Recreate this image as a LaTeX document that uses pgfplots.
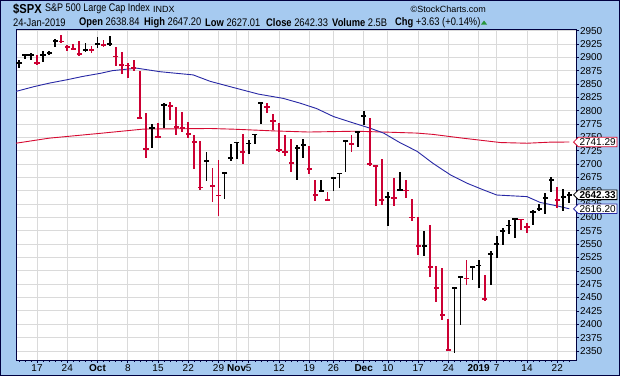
\documentclass[border=0pt]{standalone}
\usepackage{pgfplots}
\pgfplotsset{compat=1.18}
\usepackage{pgfplotstable}
\usepackage{graphicx}
\usepackage{fontspec}
\setmainfont{Liberation Sans}
\usetikzlibrary{shapes.symbols}

\definecolor{scblue}{RGB}{166,202,240}
\definecolor{navy}{RGB}{0,0,64}
\definecolor{barred}{RGB}{204,0,51}
\definecolor{mablue}{RGB}{40,40,165}
\definecolor{mared}{RGB}{215,10,50}
\definecolor{gridgray}{RGB}{218,218,218}
\definecolor{monthgray}{RGB}{185,185,185}
\definecolor{upgreen}{RGB}{40,150,60}

% x = trading-day index (0 = 12-Sep-2018), h = high, l = low, c = close
\pgfplotstableread{
x h l c
0 2894.65 2879.20 2888.92
1 2906.76 2896.39 2904.18
2 2908.30 2895.77 2904.98
4 2911.17 2890.43 2904.31
5 2912.36 2903.82 2907.95
6 2934.80 2919.73 2930.75
11 2927.22 2909.27 2914.00
13 2937.06 2917.91 2924.59
15 2939.86 2921.36 2925.51
22 2775.77 2729.44 2767.13
24 2813.46 2766.91 2809.92
31 2722.70 2667.84 2705.57
34 2685.43 2635.34 2682.63
35 2736.69 2705.60 2711.74
36 2741.67 2708.85 2740.37
38 2744.27 2717.94 2738.31
39 2756.82 2737.08 2755.45
40 2815.15 2774.13 2813.89
46 2735.38 2670.75 2730.20
47 2746.75 2712.16 2736.27
50 2670.73 2649.82 2649.93
52 2674.35 2649.97 2673.45
53 2682.53 2655.89 2682.17
54 2744.00 2684.38 2743.79
56 2760.88 2732.76 2760.17
57 2800.18 2773.38 2790.37
61 2647.51 2583.23 2637.72
63 2685.44 2650.26 2651.07
67 2573.99 2528.71 2546.16
72 2467.76 2346.58 2467.70
73 2489.10 2397.94 2488.83
75 2509.24 2482.82 2506.85
76 2519.49 2467.47 2510.03
78 2538.07 2474.33 2531.94
79 2566.16 2524.56 2549.69
80 2579.82 2547.56 2574.41
81 2595.32 2568.89 2584.96
82 2597.82 2562.02 2596.64
85 2613.08 2585.10 2610.30
86 2625.76 2612.68 2616.10
87 2645.06 2606.36 2635.96
88 2675.47 2647.58 2670.71
90 2653.19 2612.86 2638.70
91 2647.20 2627.01 2642.33
}\updays

\pgfplotstableread{
x h l c
3 2904.65 2886.16 2888.80
7 2940.91 2927.11 2929.67
8 2923.79 2912.63 2919.37
9 2923.95 2913.70 2915.56
10 2931.15 2903.28 2905.97
12 2920.53 2907.50 2913.98
14 2931.42 2919.37 2923.43
16 2919.78 2883.92 2901.61
17 2909.64 2869.29 2885.57
18 2889.45 2862.08 2884.43
19 2894.83 2874.27 2880.34
20 2874.02 2784.86 2785.68
21 2795.14 2710.51 2728.37
23 2775.99 2749.03 2750.79
25 2816.94 2781.81 2809.21
26 2806.04 2755.18 2768.78
27 2797.77 2760.27 2767.78
28 2778.94 2749.22 2755.88
29 2753.59 2691.43 2740.69
30 2742.59 2651.89 2656.10
32 2692.38 2628.16 2658.69
33 2706.85 2603.54 2641.25
37 2756.55 2700.44 2723.06
41 2814.75 2794.99 2806.83
42 2794.10 2764.24 2781.01
43 2775.99 2722.00 2726.22
44 2754.60 2714.98 2722.18
45 2746.80 2685.75 2701.58
48 2733.16 2681.09 2690.73
49 2669.44 2631.52 2641.89
51 2647.55 2631.09 2632.56
55 2753.75 2722.94 2737.80
58 2785.93 2697.18 2700.06
59 2696.15 2621.53 2695.95
60 2708.54 2623.14 2633.08
62 2674.35 2621.30 2636.78
64 2670.19 2637.27 2650.54
65 2635.07 2593.84 2599.95
66 2601.13 2530.54 2545.94
68 2585.29 2488.96 2506.96
69 2509.63 2441.18 2467.42
70 2504.41 2408.55 2416.62
71 2410.34 2351.10 2351.10
74 2520.27 2472.89 2485.74
77 2493.14 2443.96 2447.89
83 2596.27 2577.40 2596.26
84 2589.32 2570.41 2582.61
89 2657.88 2617.27 2632.90
}\downdays

% 50-day moving average
\pgfplotstableread{
x v
-0.5 2836
2.5 2845
5 2851.5
8 2858
10.5 2864
13.5 2870
15.5 2875
19.5 2879.6
23.3 2873
26 2870
28.8 2867
31.6 2855
34.9 2845
39.6 2831
43.7 2823
46.5 2814
49.2 2804
52 2789
55 2778
58.1 2767
60.3 2758
63 2740
65.8 2724
68.5 2701
71.3 2680
74.1 2664
76.8 2651.6
79 2642
84 2639
86.2 2628
89 2621.6
91 2616.2
}\maf

% 200-day moving average
\pgfplotstableread{
x v
-0.5 2739
5 2748.5
13.4 2757.5
20.6 2765.5
31.6 2766.6
35.5 2765.3
42.3 2762
47.9 2760
55.6 2761.5
60.2 2760
65.8 2758
68.5 2755.5
73 2749
79.6 2740.3
84 2739
87.8 2741
91 2741.29
}\mas

\newcommand{\hdr}[1]{\scalebox{0.85}[1]{\fontsize{11}{12}\selectfont #1}}

\begin{document}
\begin{tikzpicture}
\useasboundingbox (0pt,0pt) rectangle (620pt,376pt);
\fill[scblue] (0pt,0pt) rectangle (620pt,376pt);
\draw[navy, line width=1pt] (0.5pt,0.5pt) rectangle (619.5pt,375.5pt);

% header
\node[anchor=west, inner sep=0pt] at (13pt,367pt) {\scalebox{0.86}[1]{\fontsize{13}{13}\selectfont\bfseries \$SPX}};
\node[anchor=west, inner sep=0pt] at (45pt,367pt) {\scalebox{0.82}[1]{\fontsize{11}{12}\selectfont S\&P 500 Large Cap Index}};
\node[anchor=west, inner sep=0pt, font=\fontsize{9}{12}\selectfont] at (153pt,367pt) {INDX};
\node[anchor=east, inner sep=0pt, font=\fontsize{9}{12}\selectfont] at (486pt,367pt) {©StockCharts.com};

\node[anchor=west, inner sep=0pt] at (13pt,353.5pt) {\hdr{24-Jan-2019}};
\node[anchor=west, inner sep=0pt] at (79pt,353.5pt) {\hdr{\textbf{Open} 2638.84}};
\node[anchor=west, inner sep=0pt] at (144pt,353.5pt) {\hdr{\textbf{High} 2647.20}};
\node[anchor=west, inner sep=0pt] at (205pt,353.5pt) {\hdr{\textbf{Low} 2627.01}};
\node[anchor=west, inner sep=0pt] at (266pt,353.5pt) {\hdr{\textbf{Close} 2642.33}};
\node[anchor=west, inner sep=0pt] at (332pt,353.5pt) {\hdr{\textbf{Volume} 2.5B}};
\node[anchor=west, inner sep=0pt] at (395pt,353.5pt) {\hdr{\textbf{Chg} +3.63 (+0.14\%)}};
\fill[upgreen] (481pt,351.5pt) -- (487pt,351.5pt) -- (484pt,355.5pt) -- cycle;

\begin{axis}[
  at={(16pt,16pt)}, anchor=south west,
  scale only axis, width=560pt, height=330.5pt,
  xmin=-0.48, xmax=92.1, ymin=2333, ymax=2952,
  axis background/.style={fill=white},
  axis line style={navy, line width=1pt},
  clip mode=individual,
  tick align=outside,
  xtick pos=bottom, ytick pos=right,
  yticklabel pos=right,
  ytick={2350,2375,...,2950},
  major tick length=3pt,
  minor tick length=2pt,
  every tick/.style={navy, line width=0.6pt},
  xtick={3,8,18,23,28,33,38,43,48,52,61,66,71,79,84,89},
  xticklabels={17,24,8,15,22,29,5,12,19,26,10,17,24,7,14,22},
  extra x ticks={13,36,57,76},
  extra x tick labels={\textbf{Oct},\textbf{Nov},\textbf{Dec},\textbf{2019}},
  extra x tick style={grid style={monthgray, line width=0.8pt}},
  minor xtick={0,1,...,91},
  xmajorgrids, ymajorgrids,
  major grid style={gridgray, line width=0.8pt},
  /pgf/number format/assume math mode=true,
  /pgf/number format/1000 sep={},
  yticklabel style={font=\fontsize{10}{10}\selectfont, inner sep=0.8pt, anchor=west},
  xticklabel style={font=\fontsize{10}{10}\selectfont, inner sep=1pt},
]
\addplot[mared, line width=0.9pt] table[x=x, y=v] {\mas};
\addplot[mablue, line width=0.9pt] table[x=x, y=v] {\maf};

\addplot[only marks, mark=-, mark size=2.6pt, mark options={black, line width=1.8pt},
  error bars/.cd, y dir=both, y explicit, error mark=none,
  error bar style={black, line width=1.8pt}]
  table[x=x, y=c, y error plus expr={\thisrow{h}-\thisrow{c}}, y error minus expr={\thisrow{c}-\thisrow{l}}] {\updays};
\addplot[only marks, mark=-, mark size=2.6pt, mark options={barred, line width=1.8pt},
  error bars/.cd, y dir=both, y explicit, error mark=none,
  error bar style={barred, line width=1.8pt}]
  table[x=x, y=c, y error plus expr={\thisrow{h}-\thisrow{c}}, y error minus expr={\thisrow{c}-\thisrow{l}}] {\downdays};

\tikzset{valtag/.style={signal, signal to=west, fill=white, line width=0.8pt,
  inner xsep=1.2pt, inner ysep=1.2pt, text height=7.2pt, text depth=0pt,
  font=\fontsize{10}{10}\selectfont, anchor=west}}
\node[valtag, draw=mared] at (axis cs:91.6,2741.29) {2741.29};
\node[valtag, draw=mablue] at (axis cs:91.6,2616.20) {2616.20};
\node[valtag, draw=black, font=\fontsize{10}{10}\selectfont\bfseries] at (axis cs:91.6,2642.33) {2642.33};
\end{axis}
\end{tikzpicture}
\end{document}
